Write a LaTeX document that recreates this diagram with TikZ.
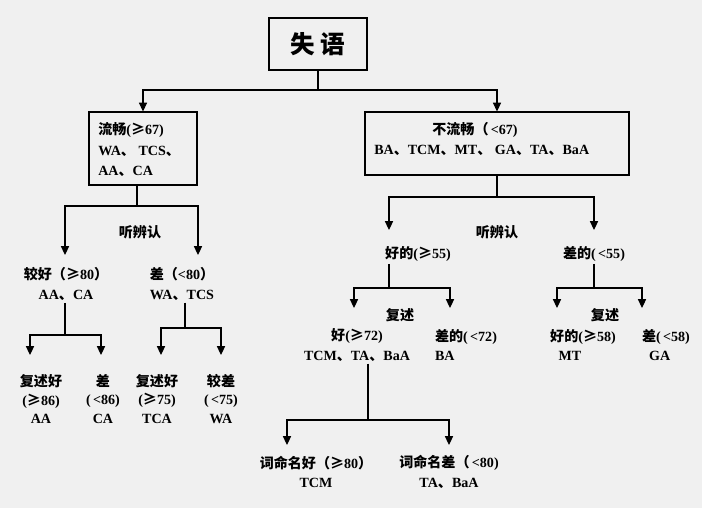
\documentclass[tikz,border=0pt]{standalone}
\usepackage{fontspec}
\usetikzlibrary{arrows.meta}
\setmainfont{Liberation Serif}
\newfontfamily\cjk{Noto Sans CJK SC}
\newcommand{\zh}[1]{{\cjk #1}}
\newcommand{\gte}{{\cjk ≥}}
\begin{document}
\begin{tikzpicture}[x=0.02cm,y=-0.02cm,line width=0.6pt,
  lbl/.style={font=\bfseries\fontsize{8}{11.2}\selectfont,align=center,inner sep=1pt},
  leaf/.style={lbl,font=\bfseries\fontsize{8}{10.5}\selectfont},
  tip/.style={-{Triangle[length=5pt,width=4.6pt]},shorten >=#1},
  tip/.default=3pt]
\definecolor{paper}{RGB}{240,240,240}
\fill[paper] (0,0) rectangle (702,508);
\useasboundingbox (0,0) rectangle (702,508);
% top
\node[draw,minimum width=98*0.02cm,minimum height=52*0.02cm,font=\fontsize{14}{16}\selectfont\bfseries] (aph) at (318,44) {\zh{失 语}};
\node[draw,minimum width=108*0.02cm,minimum height=73*0.02cm] (flu) at (143,148.5) {};
\node[lbl,anchor=west] (flut) at (96,130) {\zh{流畅}(\gte67)};
\node[lbl,anchor=west] at (96,151) {WA\zh{、} TCS\zh{、}};
\node[lbl,anchor=west] at (96,171) {AA\zh{、}CA};
\node[draw,minimum width=264*0.02cm,minimum height=63*0.02cm] (nfl) at (497,143.5) {};
\node[lbl] at (475,130) {\zh{不流畅（}\,<67)};
\node[lbl,anchor=west] at (372,150) {BA\zh{、}TCM\zh{、}MT\zh{、} GA\zh{、}TA\zh{、}BaA};
\coordinate (j0) at (318,90);
\draw (aph.south) -- (j0);
\draw[tip=0pt] (j0) -| (flu.north);
\draw[tip=0pt] (j0) -| (nfl.north);
% fluent branch
\node[lbl] at (140,232) {\zh{听辨认}};
\node[lbl] (lgood) at (66,284) {\zh{较好（}\gte80\zh{）}\\AA\zh{、}CA};
\node[lbl] (lbad) at (182,284) {\zh{差（}<80\zh{）}\\WA\zh{、}TCS};
\coordinate (j1) at (137,206);
\draw (flu.south -| j1) -- (j1);
\draw[tip=0pt] (j1) -| (65,255);
\draw[tip=0pt] (j1) -| (198,255);
\node[leaf] (l1) at (41,399) {\zh{复述好}\\(\gte86)\\AA};
\node[leaf] (l2) at (103,399) {\zh{差}\\(\,<86)\\CA};
\node[leaf] (l3) at (157,399) {\zh{复述好}\\(\gte75)\\TCA};
\node[leaf] (l4) at (221,399) {\zh{较差}\\(\,<75)\\WA};
\coordinate (j2) at (65,335);
\coordinate (j3) at (185,328);
\draw (j2 |- lgood.south) -- (j2);
\draw (j3 |- lbad.south) -- (j3);
\draw[tip=0pt] (j2) -| (30,355);
\draw[tip=0pt] (j2) -| (101,355);
\draw[tip=0pt] (j3) -| (161,355);
\draw[tip=0pt] (j3) -| (221,355);
% non-fluent branch
\node[lbl] at (497,232) {\zh{听辨认}};
\node[lbl] (rgood) at (418,254) {\zh{好的}(\gte55)};
\node[lbl] (rbad) at (594,254) {\zh{差的}(\,<55)};
\coordinate (j4) at (497,197);
\draw (nfl.south -| j4) -- (j4);
\draw[tip=0pt] (j4) -| (389,230);
\draw[tip=0pt] (j4) -| (594,230);
\coordinate (j5) at (389,288);
\coordinate (j6) at (594,288);
\draw (j5 |- rgood.south) -- (j5);
\draw (rbad.south) -- (j6);
\draw[tip=0pt] (j5) -| (354,308);
\draw[tip=0pt] (j5) -| (450,308);
\draw[tip=0pt] (j6) -| (557,308);
\draw[tip=0pt] (j6) -| (642,308);
\node[lbl] at (400,315) {\zh{复述}};
\node[lbl] at (605,315) {\zh{复述}};
\node[lbl] (g72) at (357,345) {\zh{好}(\gte72)\\TCM\zh{、}TA\zh{、}BaA};
\node[lbl,align=left] at (466,345) {\zh{差的}(\,<72)\\BA\hspace{3.2em}};
\node[lbl,align=left] at (583,345) {\zh{好的}(\gte58)\\\hspace{0.6em}MT\hspace{2.6em}};
\node[lbl,align=left] at (666,345) {\zh{差}(\,<58)\\\hspace{0.5em}GA\hspace{1.5em}};
\coordinate (j7) at (368,420);
\draw (j7 |- g72.south) -- (j7);
\node[lbl] (n1) at (316,472) {\zh{词命名好（}\gte80\zh{）}\\TCM\hspace{3.2em}};
\node[lbl] (n2) at (449,472) {\zh{词命名差（}\,<80)\\TA\zh{、}BaA};
\draw[tip=0pt] (j7) -| (287,445);
\draw[tip=0pt] (j7) -| (449,445);
\end{tikzpicture}
\end{document}
